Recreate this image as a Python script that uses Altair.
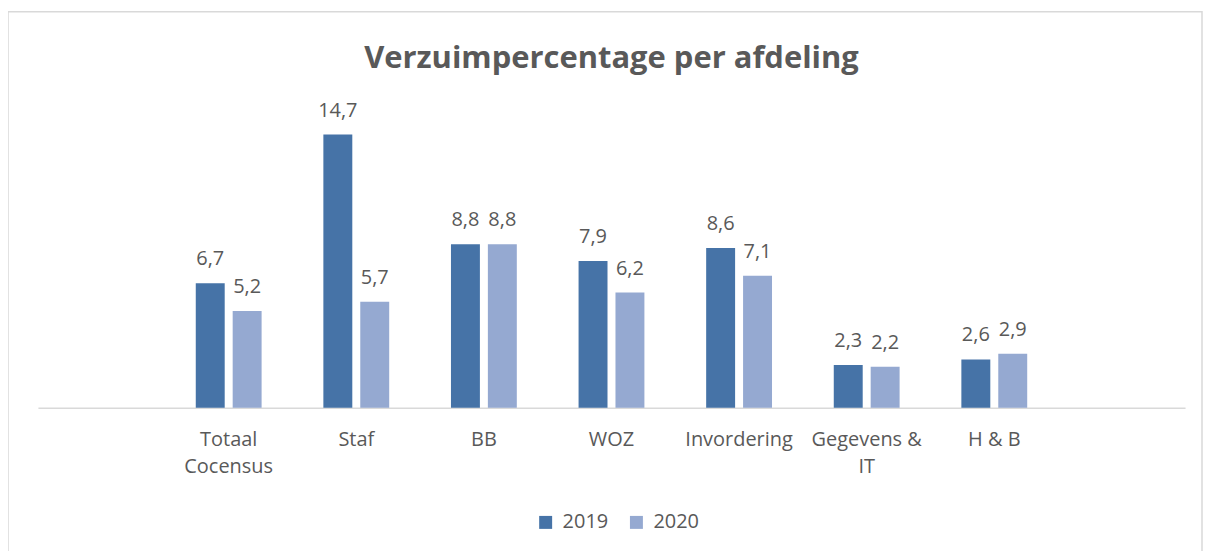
import altair as alt
import pandas as pd

categories = ["Totaal\nCocensus", "Staf", "BB", "WOZ", "Invordering", "Gegevens &\nIT", "H & B"]
years = ["2019", "2020"]
values_2019 = [6.7, 14.7, 8.8, 7.9, 8.6, 2.3, 2.6]
values_2020 = [5.2, 5.7, 8.8, 6.2, 7.1, 2.2, 2.9]

rows = []
for c, v19, v20 in zip(categories, values_2019, values_2020):
    rows.append({"afdeling": c, "jaar": "2019", "pct": v19, "label": f"{v19:.1f}".replace(".", ",")})
    rows.append({"afdeling": c, "jaar": "2020", "pct": v20, "label": f"{v20:.1f}".replace(".", ",")})
df = pd.DataFrame(rows)

# empty slots at both ends of the category axis, as in the original chart
x_domain = [" "] + categories + ["  "]

FONT = "Open Sans"
TXT = "#595959"
colors = ["#4673A7", "#95A9D1"]

x_enc = alt.X(
    "afdeling:N",
    scale=alt.Scale(domain=x_domain, paddingInner=0.484, paddingOuter=0.237),
    axis=alt.Axis(
        title=None,
        labelAngle=0,
        ticks=False,
        domainColor="#D9D9D9",
        domainWidth=1.5,
        labelFont=FONT,
        labelFontSize=20,
        labelColor=TXT,
        labelPadding=22,
        labelLineHeight=27,
        labelBaseline="top",
        labelExpr="split(datum.label, '\\n')",
    ),
)
xoff = alt.XOffset("jaar:N", sort=years, scale=alt.Scale(paddingInner=0.216, paddingOuter=0))
y_enc = alt.Y("pct:Q", scale=alt.Scale(domain=[0, 16], nice=False), axis=None)

bars = alt.Chart(df).mark_bar().encode(
    x=x_enc,
    xOffset=xoff,
    y=y_enc,
    color=alt.Color(
        "jaar:N",
        sort=years,
        scale=alt.Scale(domain=years, range=colors),
        legend=alt.Legend(
            title=None,
            orient="none",
            legendX=499,
            legendY=403,
            direction="horizontal",
            symbolType="square",
            symbolSize=169,
            symbolStrokeWidth=0,
            labelFont=FONT,
            labelFontSize=20,
            labelColor=TXT,
            labelOffset=7,
            columnPadding=18,
        ),
    ),
)

labels = alt.Chart(df).mark_text(
    font=FONT, fontSize=20, color=TXT, baseline="alphabetic", dy=-18
).encode(
    x=alt.X("afdeling:N"),
    xOffset=alt.XOffset("jaar:N", sort=years),
    y="pct:Q",
    text="label:N",
)

border = alt.Chart(alt.Data(values=[{"k": 1}])).mark_rect(
    fill=None, stroke="#D9D9D9", strokeWidth=1.5
).encode(
    x=alt.value(-30), x2=alt.value(1167), y=alt.value(-99), y2=alt.value(445)
)

chart = (
    alt.layer(border, bars, labels)
    .properties(
        width=1150,
        height=298,
        title=alt.TitleParams(
            "Verzuimpercentage per afdeling",
            font=FONT,
            fontSize=31,
            fontWeight="bold",
            color=TXT,
            anchor="middle",
            offset=-64,
        ),
        autosize=alt.AutoSizeParams(type="none"),
        padding={"left": 30, "top": 102, "right": 20, "bottom": 150},
    )
    .configure_view(stroke=None)
)

chart.save("out.html", embed_options={"renderer": "svg", "actions": False})
